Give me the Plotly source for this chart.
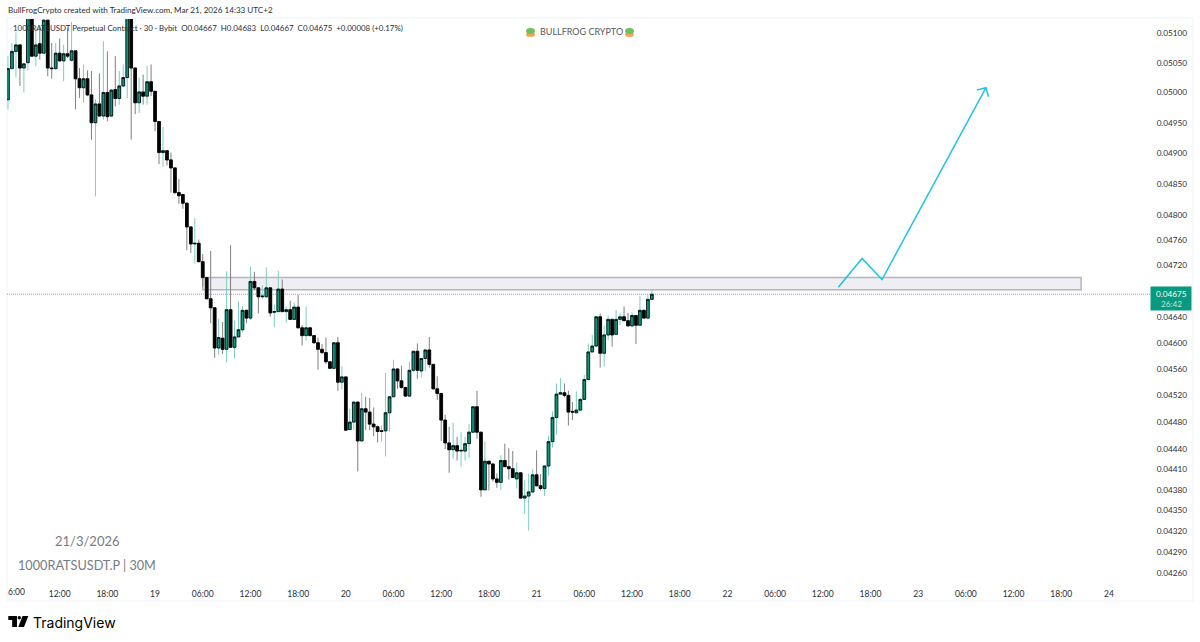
import math
import pandas as pd
import plotly.graph_objects as go

# 30 minute candles
start_time = "2026-03-18 05:30"

opens = [
    .04988, .05040, .05069, .05080, .05041, .05050, .05150, .05061, .05082, .05066,
    .05122, .05041, .05040, .05066, .05053, .05065, .05054, .05070, .05023, .05008,
    .05023, .04996, .04950, .04981, .04961, .05000, .04961, .05005, .04990, .05011,
    .05025, .05150, .05041, .04983, .05001, .04994, .05018, .05002, .04952, .04901,
    .04904, .04889, .04876, .04836, .04833, .04819, .04781, .04754, .04755, .04726,
    .04701, .04668, .04654, .04592, .04607, .04590, .04651, .04593, .04609, .04620,
    .04650, .04638, .04695, .04685, .04671, .04671, .04685, .04647, .04648, .04683,
    .04648, .04651, .04636, .04655, .04623, .04611, .04623, .04611, .04600, .04590,
    .04585, .04571, .04561, .04600, .04540, .04548, .04469, .04480, .04510, .04452,
    .04500, .04495, .04477, .04473, .04466, .04467, .04494, .04518, .04560, .04542,
    .04532, .04519, .04558, .04587, .04557, .04576, .04589, .04567, .04530, .04523,
    .04483, .04449, .04439, .04445, .04437, .04437, .04448, .04465, .04503, .04465,
    .04380, .04422, .04418, .04396, .04391, .04423, .04414, .04411, .04396, .04405,
    .04368, .04371, .04377, .04402, .04386, .04382, .04415, .04451, .04487, .04522,
    .04524, .04520, .04496, .04494, .04498, .04514, .04544, .04586, .04595, .04640,
    .04584, .04612, .04636, .04613, .04636, .04640, .04634, .04626, .04642, .04627,
    .04650, .04638, .04667,
]
highs = [
    .05061, .05083, .05101, .05080, .05050, .05160, .05160, .05111, .05111, .05127,
    .05122, .05083, .05083, .05091, .05080, .05108, .05119, .05070, .05041, .05047,
    .05037, .05036, .04989, .05032, .05086, .05069, .05006, .05061, .05036, .05047,
    .05160, .05160, .05041, .05025, .05030, .05045, .05047, .05002, .04952, .04943,
    .04905, .04901, .04876, .04858, .04833, .04820, .04782, .04795, .04761, .04738,
    .04701, .04743, .04654, .04637, .04632, .04711, .04752, .04634, .04664, .04656,
    .04651, .04718, .04710, .04686, .04689, .04717, .04686, .04659, .04712, .04698,
    .04656, .04665, .04662, .04674, .04627, .04656, .04624, .04611, .04608, .04598,
    .04608, .04571, .04601, .04609, .04564, .04548, .04500, .04510, .04510, .04524,
    .04518, .04516, .04502, .04475, .04475, .04554, .04519, .04574, .04561, .04565,
    .04533, .04571, .04588, .04599, .04576, .04590, .04609, .04567, .04549, .04523,
    .04491, .04473, .04479, .04458, .04465, .04458, .04477, .04503, .04527, .04465,
    .04451, .04422, .04418, .04404, .04431, .04448, .04441, .04437, .04420, .04405,
    .04394, .04404, .04410, .04438, .04403, .04415, .04460, .04496, .04538, .04546,
    .04538, .04527, .04510, .04526, .04516, .04551, .04599, .04612, .04641, .04645,
    .04626, .04642, .04637, .04650, .04645, .04656, .04646, .04647, .04642, .04672,
    .04651, .04674, .04683,
]
lows = [
    .04972, .05039, .05025, .05011, .05000, .05037, .05060, .05044, .05055, .05066,
    .05027, .05023, .05038, .05052, .05019, .05058, .05052, .04972, .04991, .04983,
    .04994, .04922, .04830, .04960, .04955, .04952, .04960, .04977, .04980, .05010,
    .04991, .04922, .04964, .04966, .04980, .04980, .04994, .04936, .04882, .04878,
    .04880, .04836, .04834, .04818, .04810, .04744, .04740, .04723, .04725, .04687,
    .04667, .04630, .04577, .04582, .04583, .04570, .04592, .04576, .04609, .04616,
    .04630, .04635, .04682, .04645, .04668, .04670, .04640, .04624, .04647, .04647,
    .04631, .04635, .04635, .04622, .04596, .04603, .04610, .04599, .04559, .04583,
    .04568, .04560, .04560, .04527, .04529, .04467, .04468, .04468, .04407, .04452,
    .04468, .04468, .04459, .04450, .04451, .04429, .04466, .04518, .04530, .04530,
    .04518, .04518, .04555, .04545, .04547, .04557, .04562, .04529, .04513, .04452,
    .04440, .04405, .04426, .04423, .04414, .04423, .04427, .04465, .04455, .04370,
    .04380, .04379, .04392, .04383, .04380, .04414, .04395, .04397, .04382, .04367,
    .04345, .04321, .04375, .04385, .04379, .04371, .04401, .04442, .04461, .04521,
    .04517, .04475, .04483, .04493, .04497, .04513, .04543, .04586, .04594, .04562,
    .04564, .04604, .04594, .04612, .04627, .04634, .04625, .04624, .04598, .04626,
    .04637, .04637, .04667,
]
closes = [
    .05040, .05069, .05080, .05041, .05048, .05150, .05061, .05080, .05066, .05122,
    .05041, .05040, .05066, .05053, .05065, .05061, .05070, .05023, .05008, .05023,
    .04996, .04950, .04981, .04961, .05000, .04960, .05004, .04990, .05011, .05025,
    .05150, .05041, .04983, .05001, .04994, .05018, .05002, .04952, .04901, .04904,
    .04889, .04876, .04836, .04831, .04819, .04781, .04754, .04755, .04726, .04701,
    .04668, .04654, .04592, .04608, .04590, .04651, .04593, .04609, .04620, .04650,
    .04638, .04695, .04685, .04671, .04672, .04685, .04646, .04648, .04683, .04648,
    .04651, .04636, .04655, .04623, .04611, .04623, .04611, .04600, .04590, .04585,
    .04571, .04561, .04600, .04540, .04548, .04468, .04480, .04510, .04452, .04500,
    .04495, .04477, .04473, .04466, .04467, .04494, .04518, .04560, .04542, .04532,
    .04519, .04558, .04587, .04558, .04576, .04589, .04567, .04530, .04523, .04483,
    .04449, .04439, .04445, .04437, .04438, .04448, .04465, .04503, .04465, .04380,
    .04422, .04418, .04396, .04391, .04423, .04414, .04411, .04398, .04405, .04368,
    .04371, .04377, .04402, .04386, .04382, .04415, .04451, .04487, .04522, .04524,
    .04520, .04495, .04495, .04498, .04514, .04544, .04586, .04595, .04640, .04584,
    .04612, .04636, .04612, .04636, .04640, .04634, .04626, .04642, .04627, .04650,
    .04638, .04667, .04675,
]

price_ticks = [
    0.05100, 0.05050, 0.05000, 0.04950, 0.04900, 0.04850, 0.04800, 0.04760, 0.04720,
    0.04680, 0.04640, 0.04600, 0.04560, 0.04520, 0.04480, 0.04440, 0.04410, 0.04380,
    0.04350, 0.04320, 0.04290, 0.04260,
]
time_ticks = [
    "2026-03-18 12:00", "2026-03-18 18:00", "2026-03-19 00:00", "2026-03-19 06:00",
    "2026-03-19 12:00", "2026-03-19 18:00", "2026-03-20 00:00", "2026-03-20 06:00",
    "2026-03-20 12:00", "2026-03-20 18:00", "2026-03-21 00:00", "2026-03-21 06:00",
    "2026-03-21 12:00", "2026-03-21 18:00", "2026-03-22 00:00", "2026-03-22 06:00",
    "2026-03-22 12:00", "2026-03-22 18:00", "2026-03-23 00:00", "2026-03-23 06:00",
    "2026-03-23 12:00", "2026-03-23 18:00", "2026-03-24 00:00",
]
time_labels = [
    "12:00", "18:00", "19", "06:00", "12:00", "18:00", "20", "06:00", "12:00", "18:00",
    "21", "06:00", "12:00", "18:00", "22", "06:00", "12:00", "18:00", "23", "06:00",
    "12:00", "18:00", "24",
]

last_price = 0.04675
zone_times = ["2026-03-19 06:00", "2026-03-23 20:30"]
zone_prices = [0.04682, 0.04701]
path_times = ["2026-03-22 13:57", "2026-03-22 16:57", "2026-03-22 19:27", "2026-03-23 08:32"]
path_prices = [0.04686, 0.04731, 0.04698, 0.05008]
head_times = ["2026-03-23 07:21", "2026-03-23 08:32", "2026-03-23 08:51"]
head_prices = [0.05004, 0.05008, 0.04993]

x_range = ["2026-03-18 05:22:30", "2026-03-24 05:25"]
y_range = [0.04249, 0.05124]

W, H = 1200, 642
L, R, T, B = 7, 1152, 19, 581
FONT = "Lato"
TEXT = "#2a2e39"
GREEN = "#089981"


def px(x):
    return (x - L) / (R - L)


def py(y):
    return 1 - (y - T) / (B - T)


def label(text, x, y, size, color=TEXT, anchor="left", family=FONT, **kw):
    return dict(text=text, xref="paper", yref="paper", x=px(x), y=py(y), xanchor=anchor,
                yanchor="middle", showarrow=False, font=dict(family=family, size=size, color=color), **kw)


def pixel_shape(kind, x0, y0, x1, y1, fill, line="rgba(0,0,0,0)", width=0, **kw):
    return dict(type=kind, xref="paper", yref="paper", x0=px(x0), x1=px(x1), y0=py(y0), y1=py(y1),
                fillcolor=fill, line=dict(color=line, width=width), **kw)


def polygon(points, fill):
    path = "M" + " L".join(f"{px(x):.5f},{py(y):.5f}" for x, y in points) + " Z"
    return dict(type="path", xref="paper", yref="paper", path=path, fillcolor=fill,
                line=dict(color=fill, width=0))


times = pd.date_range(start_time, periods=len(opens), freq="30min")
body_highs = [max(o, c) for o, c in zip(opens, closes)]
body_lows = [min(o, c) for o, c in zip(opens, closes)]

fig = go.Figure()

# Wicks and bodies have different colours, so two traces
fig.add_trace(go.Candlestick(
    x=times, open=opens, high=highs, low=lows, close=closes, whiskerwidth=0,
    increasing=dict(line=dict(color="#7fccc0", width=1), fillcolor="rgba(0,0,0,0)"),
    decreasing=dict(line=dict(color="#7f7f7f", width=1), fillcolor="rgba(0,0,0,0)"),
))
fig.add_trace(go.Candlestick(
    x=times, open=opens, high=body_highs, low=body_lows, close=closes, whiskerwidth=0,
    increasing=dict(line=dict(color="#000000", width=0.8), fillcolor=GREEN),
    decreasing=dict(line=dict(color="#000000", width=0.8), fillcolor="#000000"),
))

fig.add_trace(go.Scatter(x=path_times, y=path_prices, mode="lines", line=dict(color="#22c3de", width=1.5)))
fig.add_trace(go.Scatter(x=head_times, y=head_prices, mode="lines", line=dict(color="#22c3de", width=1.5)))

shapes = [
    pixel_shape("rect", 7, 18, 1193, 601, "rgba(0,0,0,0)", line="#f0f3fa", width=1, layer="below"),
    # zone and last price line go behind the candles
    dict(type="rect", xref="x", yref="y", x0=zone_times[0], x1=zone_times[1], y0=zone_prices[0], y1=zone_prices[1],
         fillcolor="#efeff3", line=dict(color="#b4b5be", width=1.5), layer="below"),
    dict(type="line", xref="x", yref="y", x0=x_range[0], x1=x_range[1], y0=last_price, y1=last_price,
         line=dict(color="#5fc4b4", width=1, dash="1px,1px"), layer="below"),
    # TradingView logo
    polygon([(8.3, 616), (17, 616), (17, 627), (12.2, 627), (12.2, 620), (8.3, 620)], "#000000"),
    pixel_shape("circle", 17.6, 616, 21, 619.4, "#000000"),
    polygon([(22.5, 616), (28.3, 616), (24, 627), (18.3, 627)], "#000000"),
]
# Frog icons either side of the watermark
for frog_x in (526, 625):
    shapes.append(pixel_shape("circle", frog_x, 32, frog_x + 9, 37, "#f2a65a"))
    shapes.append(pixel_shape("circle", frog_x, 28, frog_x + 9, 34, "#6fbf5f"))

annotations = [
    label("BullFrogCrypto created with TradingView.com, Mar 21, 2026 14:33 UTC+2", 6, 10, 8.1),
    label("1000RATSUSDT Perpetual Contract · 30 · Bybit  O0.04667  H0.04683  L0.04667  C0.04675  +0.00008 (+0.17%)",
          11, 28, 7.9),
    label("BULLFROG CRYPTO", 538, 32, 9, color="#555a66"),
    label("21/3/2026", 53, 541, 13, color="#787b86"),
    label("1000RATSUSDT.P | 30M", 16, 565, 12.7, color="#787b86"),
    label("6:00", 6, 592, 8.5),
    label("TradingView", 31, 622, 14, color="#000000", family="Inter"),
    # last price tag
    label(" ", 1171, 298.5, 8, anchor="center", width=38, height=21, bgcolor=GREEN),
    label("0.04675", 1171, 294, 8.2, color="#ffffff", anchor="center"),
    label("26:42", 1171, 303.7, 8.2, color="#bfe5de", anchor="center"),
]

fig.update_layout(
    width=W, height=H, margin=dict(l=L, r=W - R, t=T, b=H - B),
    paper_bgcolor="white", plot_bgcolor="white", showlegend=False, boxgap=0.32, boxgroupgap=0,
    font=dict(family=FONT, size=8.2, color=TEXT),
    shapes=shapes, annotations=annotations,
    xaxis=dict(
        type="date", range=x_range, rangeslider=dict(visible=False), showgrid=False, zeroline=False,
        showline=False, tickmode="array", tickvals=time_ticks, ticktext=time_labels, tickangle=0,
        ticks="outside", ticklen=5, tickcolor="rgba(0,0,0,0)", tickfont=dict(family=FONT, size=8.5, color=TEXT),
    ),
    yaxis=dict(
        type="log", side="right", range=[math.log10(y_range[0]), math.log10(y_range[1])], showgrid=False,
        zeroline=False, showline=False, tickmode="array", tickvals=price_ticks,
        ticktext=[f"{p:.5f}" for p in price_ticks], ticks="outside", ticklen=2, tickcolor="rgba(0,0,0,0)",
        tickfont=dict(family=FONT, size=8.2, color=TEXT),
    ),
)

fig.write_html("out.html", config={"displayModeBar": False}, post_script="document.body.style.margin='0';")
